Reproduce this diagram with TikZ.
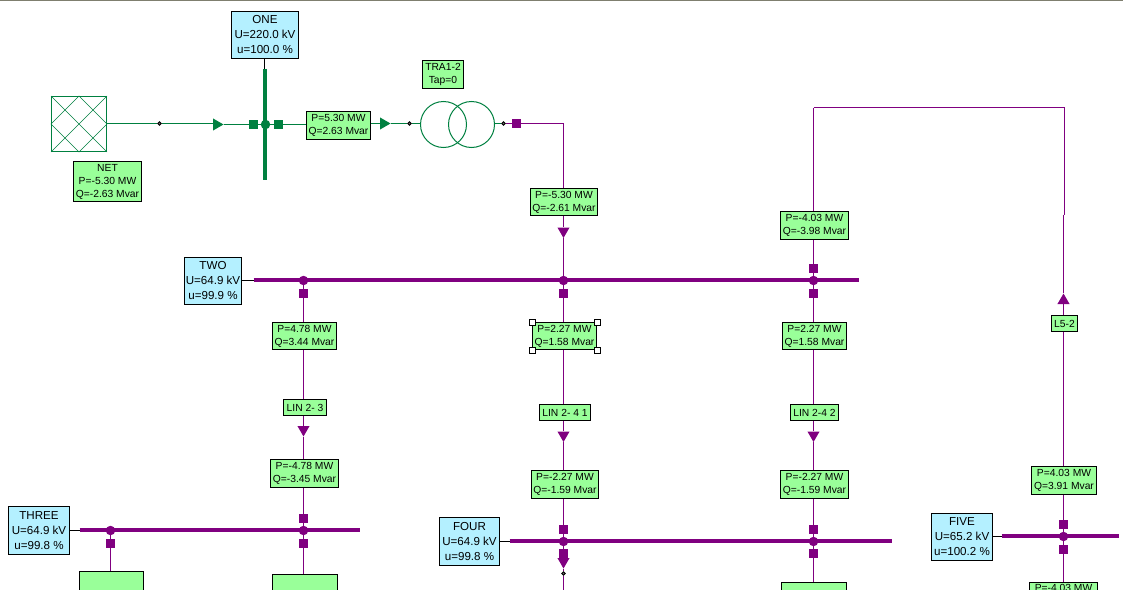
\documentclass[tikz,border=0pt]{standalone}
\usepackage{fontspec}
\setmainfont{Liberation Sans}
\usetikzlibrary{shapes.geometric,backgrounds}
\definecolor{gn}{HTML}{008040}
\definecolor{pu}{HTML}{800080}
\definecolor{boxg}{HTML}{99FF99}
\definecolor{boxb}{HTML}{B4F0FF}
\definecolor{topc}{HTML}{7F7F6F}
\tikzset{
 size/.style 2 args={minimum width=#1,minimum height=#2},
 lab/.style={draw=black,line width=1pt,fill=boxg,inner sep=0pt,align=center,font=\fontsize{10.3}{13}\selectfont},
 busl/.style={draw=black,line width=1pt,fill=boxb,inner sep=0pt,align=center,font=\fontsize{11.6}{15}\selectfont},
 sq/.style={rectangle,fill=#1,inner sep=0pt,minimum size=9.5pt},
 jd/.style={circle,fill=#1,inner sep=0pt,minimum size=9.5pt},
 sd/.style={circle,draw=black,fill=black!55,line width=1pt,inner sep=0pt,minimum size=3.5pt},
 tri/.style={regular polygon,regular polygon sides=3,fill=#1,inner sep=0pt,minimum size=14pt},
 hd/.style={rectangle,draw=black,fill=white,line width=1pt,inner sep=0pt,minimum size=6pt},
 wire/.style={line width=1pt,draw=#1},
 bus/.style={line width=4pt,draw=#1},
 tap/.style={line width=1pt,draw=black},
}
\begin{document}
\begin{tikzpicture}[x=1pt,y=-1pt]
\useasboundingbox (0,0) rectangle (1123,589);
\clip (0,0) rectangle (1123,589);
\fill[topc] (0,0) rectangle (1123,1.2);
\begin{scope}[shift={(0.5,0.5)}]
% bus labels
\node[busl,size={67pt}{47pt}] (one) at (264.5,34.5) {ONE\\U=220.0 kV\\u=100.0 \%};
\node[busl,size={57pt}{47pt}] (two) at (212.5,280.5) {TWO\\U=64.9 kV\\u=99.9 \%};
\node[busl,size={61pt}{48pt}] (three) at (38.5,530) {THREE\\U=64.9 kV\\u=99.8 \%};
\node[busl,size={60pt}{48pt}] (four) at (469,541) {FOUR\\U=64.9 kV\\u=99.8 \%};
\node[busl,size={61pt}{47pt}] (five) at (961.5,536.5) {FIVE\\U=65.2 kV\\u=100.2 \%};
% bus ends
\coordinate (b1a) at (264.5,68); \coordinate (b1b) at (264.5,179);
\coordinate (b2a) at (253,279.5); \coordinate (b2b) at (858,279.5);
\coordinate (b3a) at (79,529.5); \coordinate (b3b) at (359,529.5);
\coordinate (b4a) at (509,540.5); \coordinate (b4b) at (891,540.5);
\coordinate (b5a) at (1001,535.5); \coordinate (b5b) at (1118,535.5);
% grid feeder
\node[rectangle,draw=gn,line width=1pt,fill=white,inner sep=0pt,minimum size=55pt] (net) at (78.5,123.5) {};
\node[lab,size={68pt}{40pt}] (netl) at (107,181) {NET\\P=-5.30 MW\\Q=-2.63 Mvar};
\node[sd] (d1) at (159,123) {};
\node[tri=gn,shape border rotate=270] (a1) at (216,124) {};
\node[sq=gn] (s1) at (253,124) {};
\node[jd=gn] (j1) at (265,124) {};
\node[sq=gn] (s2) at (278,124) {};
\node[lab,size={64pt}{28pt}] (l1) at (338,125) {P=5.30 MW\\Q=2.63 Mvar};
\node[tri=gn,shape border rotate=270] (a2) at (383,123) {};
\node[sd] (d2) at (409,123) {};
% transformer
\node[lab,size={41pt}{28pt}] (tra) at (442.5,74) {TRA1-2\\Tap=0};
\node[circle,draw=gn,line width=1pt,inner sep=0pt,minimum size=46pt] (t1) at (443,124) {};
\node[circle,draw=gn,line width=1pt,inner sep=0pt,minimum size=46pt] (t2) at (471,124) {};
\node[sd] (d3) at (503,123) {};
\node[sq=pu] (s3) at (516,123) {};
\coordinate (c1) at (563,123);
% x=563
\node[lab,size={67pt}{27pt}] (l2) at (563.5,201.5) {P=-5.30 MW\\Q=-2.61 Mvar};
\node[tri=pu,shape border rotate=180] (a3) at (563,230.5) {};
\node[jd=pu] (j2) at (563,280) {};
\node[sq=pu] (s4) at (563,293) {};
\node[lab,size={64pt}{27pt}] (l3) at (564,335.5) {P=2.27 MW\\Q=1.58 Mvar};
\node[hd] (h1) at (l3.north west) {};
\node[hd] (h2) at (l3.north east) {};
\node[hd] (h3) at (l3.south west) {};
\node[hd] (h4) at (l3.south east) {};
\node[lab,size={51pt}{16pt}] (l4) at (564.5,412) {LIN 2- 4 1};
\node[tri=pu,shape border rotate=180] (a4) at (563,434.5) {};
\node[lab,size={67pt}{28pt}] (l5) at (564.5,484) {P=-2.27 MW\\Q=-1.59 Mvar};
\node[sq=pu] (s5) at (563,529) {};
\node[jd=pu] (j3) at (563,541) {};
\node[sq=pu] (s6) at (563,553) {};
\node[tri=pu,shape border rotate=180] (a5) at (563,561) {};
\node[sd] (d4) at (563,573) {};
\coordinate (c2) at (563,590);
% x=303
\node[jd=pu] (j4) at (303,280) {};
\node[sq=pu] (s7) at (303,293) {};
\node[lab,size={64pt}{27pt}] (l6) at (304,335.5) {P=4.78 MW\\Q=3.44 Mvar};
\node[lab,size={43pt}{16pt}] (l7) at (304.5,407) {LIN 2- 3};
\node[tri=pu,shape border rotate=180] (a6) at (303,429) {};
\node[lab,size={68pt}{28pt}] (l8) at (304,473) {P=-4.78 MW\\Q=-3.45 Mvar};
\node[sq=pu] (s8) at (303,518) {};
\node[jd=pu] (j5) at (303,530) {};
\node[sq=pu] (s9) at (303,543) {};
\node[lab,size={65pt}{40pt},anchor=north] (l9) at (304.5,573) {};
\node[jd=pu] (j6) at (110,530) {};
\node[sq=pu] (s10) at (110,543) {};
\node[lab,size={64pt}{40pt},anchor=north] (l10) at (111,570) {};
% x=813
\node[lab,size={68pt}{28pt}] (l11) at (814,225) {P=-4.03 MW\\Q=-3.98 Mvar};
\node[sq=pu] (s11) at (813,268) {};
\node[jd=pu] (j7) at (813,280) {};
\node[sq=pu] (s12) at (813,293) {};
\node[lab,size={64pt}{27pt}] (l12) at (814,335.5) {P=2.27 MW\\Q=1.58 Mvar};
\node[lab,size={48pt}{16pt}] (l13) at (814,412) {LIN 2-4 2};
\node[tri=pu,shape border rotate=180] (a7) at (813,434.5) {};
\node[lab,size={68pt}{28pt}] (l14) at (814,484) {P=-2.27 MW\\Q=-1.59 Mvar};
\node[sq=pu] (s13) at (813,529) {};
\node[jd=pu] (j8) at (813,541) {};
\node[sq=pu] (s14) at (813,553) {};
\node[lab,size={65pt}{40pt},anchor=north] (l15) at (813.5,581) {};
\coordinate (c3) at (813,107);
\coordinate (c4) at (1064,107);
\coordinate (c5) at (1064,214);
\coordinate (c6) at (1063,214);
% x=1063
\node[tri=pu] (a8) at (1063,300) {};
\node[lab,size={26pt}{16pt}] (l16) at (1064,323) {L5-2};
\node[lab,size={65pt}{28pt}] (l17) at (1063.5,480) {P=4.03 MW\\Q=3.91 Mvar};
\node[sq=pu] (s15) at (1063,524) {};
\node[jd=pu] (j9) at (1063,536) {};
\node[sq=pu] (s16) at (1063,549) {};
\node[lab,minimum width=68pt,anchor=north,text height=9.5pt,text depth=18pt] (l18) at (1063,581) {P=-4.03 MW};
\begin{scope}[on background layer]
 \draw[tap] ([xshift=-.5pt]one.south) -- ([xshift=-.5pt]one.south |- b1a);
 \draw[tap] (two.east |- j2) -- (b2a |- j2);
 \draw[tap] (three.east) -- (b3a |- three.east);
 \draw[tap] (four.east) -- (b4a |- four.east);
 \draw[tap] (five.east |- j9) -- (b5a |- j9);
 \draw[bus=gn] (b1a) -- (b1b);
 \draw[bus=pu] (b2a) -- (b2b);
 \draw[bus=pu] (b3a) -- (b3b);
 \draw[bus=pu] (b4a) -- (b4b);
 \draw[bus=pu] (b5a) -- (b5b);
 \draw[wire=gn] (net.east |- d1) -- (d1) -- (a1 |- d1);
 \draw[wire=gn] (a1) -- (s1) -- (j1) -- (s2) -- (l1.west |- s2);
 \draw[wire=gn] (l1.east |- a2) -- (a2) -- (d2) -- (t1.west |- d2);
 \draw[wire=gn] (t2.east |- d3) -- (d3);
 \draw[wire=pu] (d3) -- (s3) -- (c1) -- (a3);
 \draw[wire=pu] (a3) -- (j2) -- (s4) -- (j2 |- l3) -- (j2 |- l4) -- (a4) -- (j2 |- l5) -- (s5) -- (j3) -- (s6) -- (a5) -- (d4) -- (c2);
 \draw[wire=pu] (j4) -- (s7) -- (j4 |- l6) -- (j4 |- l7) -- (a6) -- (j4 |- l8) -- (s8) -- (j5) -- (s9) -- (j5 |- l9.north);
 \draw[wire=pu] (j6) -- (s10) -- (j6 |- l10.north);
 \draw[wire=pu] (c3) -- (c3 |- l11) -- (s11) -- (j7) -- (s12) -- (j7 |- l12) -- (j7 |- l13) -- (a7) -- (j7 |- l14) -- (s13) -- (j8) -- (s14) -- (j8 |- l15.north);
 \draw[wire=pu] (c5) -- (c4) -- (c3);
 \draw[wire=pu] (c6) -- (a8) -- (c6 |- l16) -- (c6 |- l17) -- (s15) -- (j9) -- (s16) -- (s16 |- l18.north);
\end{scope}
% net symbol hatch
\draw[gn,line width=.6pt] (net.north west) -- (net.south east) (net.south west) -- (net.north east)
 (net.north) -- (net.east) -- (net.south) -- (net.west) -- cycle;
\end{scope}
\end{tikzpicture}
\end{document}
